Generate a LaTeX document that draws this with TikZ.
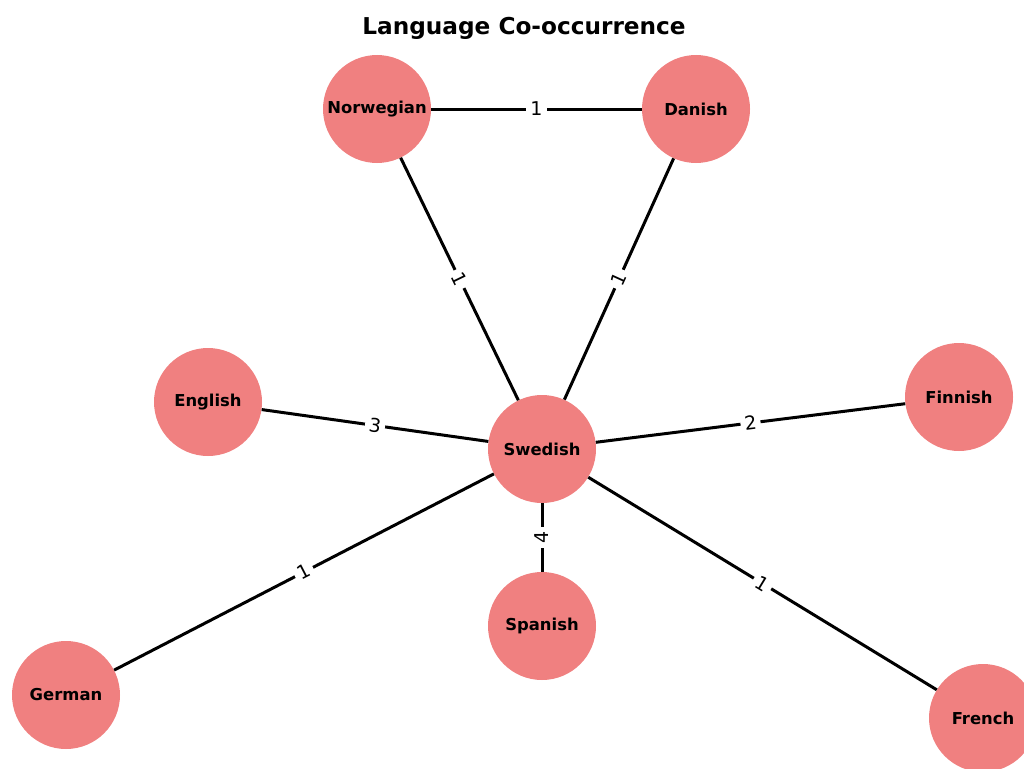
\documentclass[tikz,border=0pt]{standalone}
\usepackage{fontspec}
\setmainfont{DejaVu Sans}
\definecolor{lightcoral}{HTML}{F08080}

\begin{document}
\begin{tikzpicture}[x=1pt,y=-1pt,
  lang/.style={circle,fill=lightcoral,minimum size=108pt,inner sep=0pt,
    font=\fontsize{16.4}{20}\selectfont\bfseries},
  link/.style={line width=3pt,black},
  weight/.style={fill=white,inner sep=4pt,sloped,font=\fontsize{19}{20}\selectfont}]
\useasboundingbox[fill=white] (0,0) rectangle (1024,768);
\clip (0,0) rectangle (1024,768);
\node[font=\fontsize{23.2}{26}\selectfont\bfseries] (title) at (524,28) {Language Co-occurrence};
\node[lang] (norwegian) at (377,109) {Norwegian};
\node[lang] (danish) at (696,109) {Danish};
\node[lang] (english) at (208,402) {English};
\node[lang] (swedish) at (542,449) {Swedish};
\node[lang] (finnish) at (959,397) {Finnish};
\node[lang] (spanish) at (542,626) {Spanish};
\node[lang] (german) at (66,695) {German};
\node[lang] (french) at (983,718) {French};
\draw[link] (norwegian) -- node[weight] {1} (danish);
\draw[link] (norwegian) -- node[weight] {1} (swedish);
\draw[link] (danish) -- node[weight] {1} (swedish);
\draw[link] (english) -- node[weight] {3} (swedish);
\draw[link] (swedish) -- node[weight] {2} (finnish);
\draw[link] (spanish) -- node[weight] {4} (swedish);
\draw[link] (german) -- node[weight] {1} (swedish);
\draw[link] (swedish) -- node[weight] {1} (french);
\end{tikzpicture}
\end{document}
